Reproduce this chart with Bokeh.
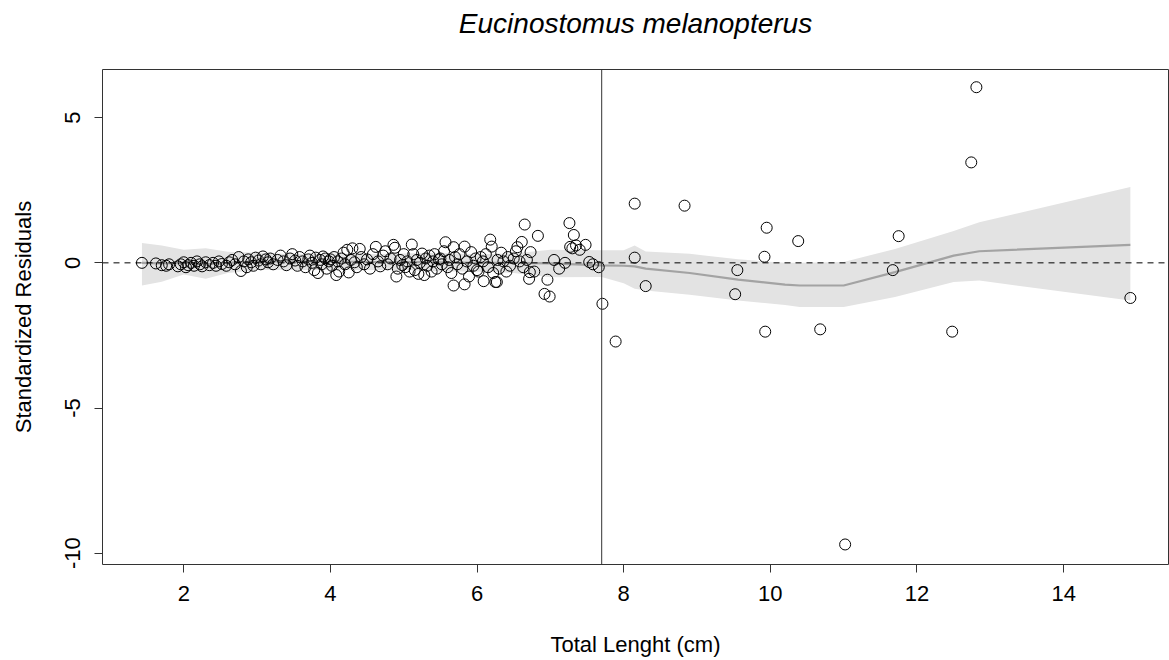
from bokeh.plotting import figure
from bokeh.models import Span, FixedTicker, Range1d, LinearAxis
from bokeh.embed import file_html
from bokeh.resources import INLINE

# ---- data: total length (cm) and standardized residuals ----
length_cm = [
    1.43, 1.62, 1.70, 1.76, 1.80, 1.92, 1.96, 2.00, 2.03, 2.06, 2.10, 2.14,
    2.18, 2.22, 2.25, 2.30, 2.35, 2.40, 2.44, 2.48, 2.52, 2.58, 2.62, 2.66, 2.70,
    2.75, 2.78, 2.82, 2.86, 2.88, 2.92, 2.95, 2.98, 3.02, 3.05, 3.08, 3.12,
    3.15, 3.18, 3.22, 3.28, 3.32, 3.36, 3.40, 3.45, 3.48, 3.52, 3.55, 3.58, 3.62,
    3.66, 3.70, 3.72, 3.75, 3.78, 3.80, 3.83, 3.86, 3.88, 3.90, 3.93, 3.95, 3.98,
    4.00, 4.02, 4.05, 4.08,
    4.10, 4.12, 4.15, 4.18, 4.20, 4.23, 4.25, 4.28, 4.30, 4.33, 4.36, 4.40, 4.42,
    4.46, 4.50, 4.54, 4.58, 4.62, 4.65, 4.68, 4.72, 4.75, 4.78, 4.82, 4.86, 4.88,
    4.90, 4.92, 4.95, 4.98, 5.00, 5.02,
    5.05, 5.08, 5.11, 5.13, 5.15, 5.18, 5.20, 5.22, 5.25, 5.28, 5.30, 5.32, 5.35,
    5.38, 5.40, 5.42, 5.45, 5.48, 5.50, 5.52, 5.55, 5.57, 5.60, 5.62, 5.65, 5.68,
    5.68, 5.70, 5.73, 5.76, 5.80, 5.83, 5.83, 5.86, 5.89, 5.92, 5.95, 5.98, 6.00,
    6.02, 6.05,
    6.08, 6.09, 6.12, 6.15, 6.18, 6.20, 6.22, 6.25, 6.27, 6.28, 6.30, 6.33, 6.36,
    6.40, 6.42, 6.45, 6.50, 6.53, 6.55, 6.58, 6.61, 6.63, 6.65, 6.68, 6.71, 6.72,
    6.73, 6.78, 6.83, 6.92, 6.96, 6.99, 7.05, 7.12, 7.20, 7.26, 7.27, 7.30, 7.32,
    7.35, 7.40, 7.48, 7.53, 7.58, 7.66,
    7.71, 7.89, 8.15, 8.15, 8.30, 8.83, 9.52, 9.55, 9.92, 9.93, 9.95, 10.38,
    10.68, 11.02, 11.67, 11.75, 12.48, 12.74, 12.81, 14.91,
]
std_residuals = [
    0.00, -0.02, -0.08, -0.10, -0.05, -0.12, -0.05, 0.02, -0.15, -0.08, 0.00, -0.10,
    0.05, -0.05, -0.12, 0.02, -0.08, 0.00, -0.10, 0.05, -0.04, -0.10, 0.02, 0.10, -0.05,
    0.20, -0.28, 0.05, -0.15, 0.12, 0.02, -0.10, 0.18, 0.08, -0.05, 0.22, 0.12,
    0.02, 0.15, -0.05, 0.10, 0.25, 0.05, -0.08, 0.15, 0.30, 0.08, -0.10, 0.20, 0.05,
    -0.15, 0.12, 0.25, 0.00, -0.25, 0.18, -0.35, 0.10, -0.05, 0.22, 0.15, -0.20, 0.05,
    0.12, -0.10, 0.20, -0.42,
    0.05, -0.30, 0.15, 0.35, -0.05, 0.45, -0.33, 0.10, 0.50, 0.02, -0.15, 0.48, 0.20,
    -0.05, 0.12, -0.20, 0.30, 0.55, 0.05, -0.12, 0.25, 0.40, -0.05, 0.15, 0.62, 0.52,
    -0.47, -0.20, 0.10, -0.08, 0.30, -0.15,
    0.05, -0.30, 0.63, 0.30, -0.25, 0.10, -0.38, 0.00, 0.32, -0.42, 0.15, -0.10, 0.25,
    -0.30, 0.05, 0.30, -0.20, 0.12, 0.15, -0.05, 0.40, 0.71, -0.15, 0.10, -0.35, 0.54,
    -0.78, 0.20, -0.05, 0.30, -0.20, 0.56, -0.74, 0.05, -0.47, 0.37, -0.10, 0.15, -0.25,
    -0.30, 0.20,
    0.05, -0.63, 0.30, -0.15, 0.80, 0.56, -0.35, -0.66, -0.66, 0.10, -0.20, 0.35, 0.05,
    -0.30, 0.20, -0.10, 0.15, 0.40, 0.54, 0.05, 0.72, -0.15, 1.32, 0.10, -0.55, -0.32,
    0.37, -0.30, 0.93, -1.07, -0.58, -1.16, 0.10, -0.20, 0.00, 1.37, 0.55, 0.50, 0.96,
    0.60, 0.45, 0.62, 0.03, -0.05, -0.15,
    -1.41, -2.71, 2.04, 0.18, -0.80, 1.97, -1.08, -0.25, 0.21, -2.37, 1.21, 0.75,
    -2.29, -9.70, -0.25, 0.92, -2.37, 3.46, 6.05, -1.21,
]

# ---- smoother (loess) and its confidence band ----
smooth_x = [1.43, 1.7, 2.0, 2.3, 2.6, 3.0, 3.5, 4.0, 4.5, 5.0, 5.5, 6.0, 6.5, 7.0,
            7.7, 8.0, 8.15, 8.3, 8.9, 9.56, 10.2, 10.4, 11.0, 11.7, 12.5, 12.85, 14.91]
smooth_fit = [0.0, -0.02, 0.0, -0.05, 0.0, 0.05, 0.05, 0.05, 0.03, 0.03, 0.02, 0.0,
              0.0, -0.02, -0.09, -0.10, -0.12, -0.20, -0.35, -0.58, -0.75, -0.78,
              -0.78, -0.32, 0.25, 0.40, 0.62]
smooth_upper = [0.68, 0.6, 0.45, 0.5, 0.38, 0.35, 0.3, 0.32, 0.3, 0.32, 0.35, 0.3,
                0.32, 0.45, 0.43, 0.43, 0.6, 0.39, 0.31, 0.12, 0.0, 0.0, 0.03, 0.48,
                1.1, 1.4, 2.61]
smooth_lower = [-0.78, -0.65, -0.4, -0.55, -0.35, -0.25, -0.25, -0.25, -0.25, -0.25,
                -0.3, -0.3, -0.35, -0.5, -0.49, -0.7, -0.89, -0.95, -1.1, -1.3, -1.45,
                -1.52, -1.52, -1.18, -0.66, -0.61, -1.30]

cutoff_length = 7.7
x_ticks = [2, 4, 6, 8, 10, 12, 14]
y_ticks = [-10, -5, 0, 5]
y_tick_labels = ["-10", "-5", "0", "5"]
title_text = "Eucinostomus melanopterus"

FONT = "Liberation Sans"
X0, X1 = 0.892, 15.43
Y0, Y1 = -10.39, 6.66

p = figure(width=1169, height=660, output_backend="svg", toolbar_location=None,
           x_range=Range1d(X0, X1), y_range=Range1d(Y0, Y1),
           min_border_left=102, min_border_right=1, min_border_top=69,
           min_border_bottom=96)

x_axis = p.below[0]
y_axis = p.left[0]

p.grid.visible = False
p.background_fill_color = "white"
p.border_fill_color = "white"
p.outline_line_color = "#333333"
p.outline_line_width = 1

# band + smooth line
p.varea(x=smooth_x, y1=smooth_lower, y2=smooth_upper, fill_color="#e3e3e3")
p.line(x=smooth_x, y=smooth_fit, line_color="#a3a3a3", line_width=2.2)

# reference lines
p.add_layout(Span(location=0, dimension="width", line_color="black",
                  line_dash="6 5", line_width=1))
p.add_layout(Span(location=cutoff_length, dimension="height", line_color="#333333",
                  line_width=1))

# points
p.scatter(x=length_cm, y=std_residuals, size=11, marker="circle",
          fill_color=None, line_color="black", line_width=1)

for ax in (x_axis, y_axis):
    ax.axis_line_color = None
    ax.major_tick_out = 8
    ax.major_tick_in = 0
    ax.minor_tick_line_color = None
    ax.major_tick_line_color = "#333333"
    ax.major_label_text_font = FONT
    ax.major_label_text_font_size = "22px"
    ax.major_label_text_color = "black"
    ax.axis_label_text_font = FONT
    ax.axis_label_text_font_size = "22px"
    ax.axis_label_text_font_style = "normal"
    ax.axis_label_text_color = "black"

x_axis.ticker = FixedTicker(ticks=x_ticks)
y_axis.ticker = FixedTicker(ticks=y_ticks)
y_axis.major_label_overrides = {t: s for t, s in zip(y_ticks, y_tick_labels)}
x_axis.axis_label = "Total Lenght (cm)"
y_axis.axis_label = "Standardized Residuals"
x_axis.major_label_standoff = 13
x_axis.axis_label_standoff = 28
y_axis.major_label_orientation = "vertical"
y_axis.major_label_standoff = 14
y_axis.axis_label_standoff = 27

# title as the label of a tick-less axis above the frame
title_axis = LinearAxis(ticker=FixedTicker(ticks=[]), axis_label=title_text,
                        axis_line_color=None, major_tick_out=0, major_tick_in=0,
                        minor_tick_line_color=None, major_label_standoff=0,
                        axis_label_standoff=31,
                        axis_label_text_font=FONT,
                        axis_label_text_font_style="italic",
                        axis_label_text_font_size="28px",
                        axis_label_text_color="black")
p.add_layout(title_axis, "above")

open("out.html", "w").write(file_html(p, INLINE))
